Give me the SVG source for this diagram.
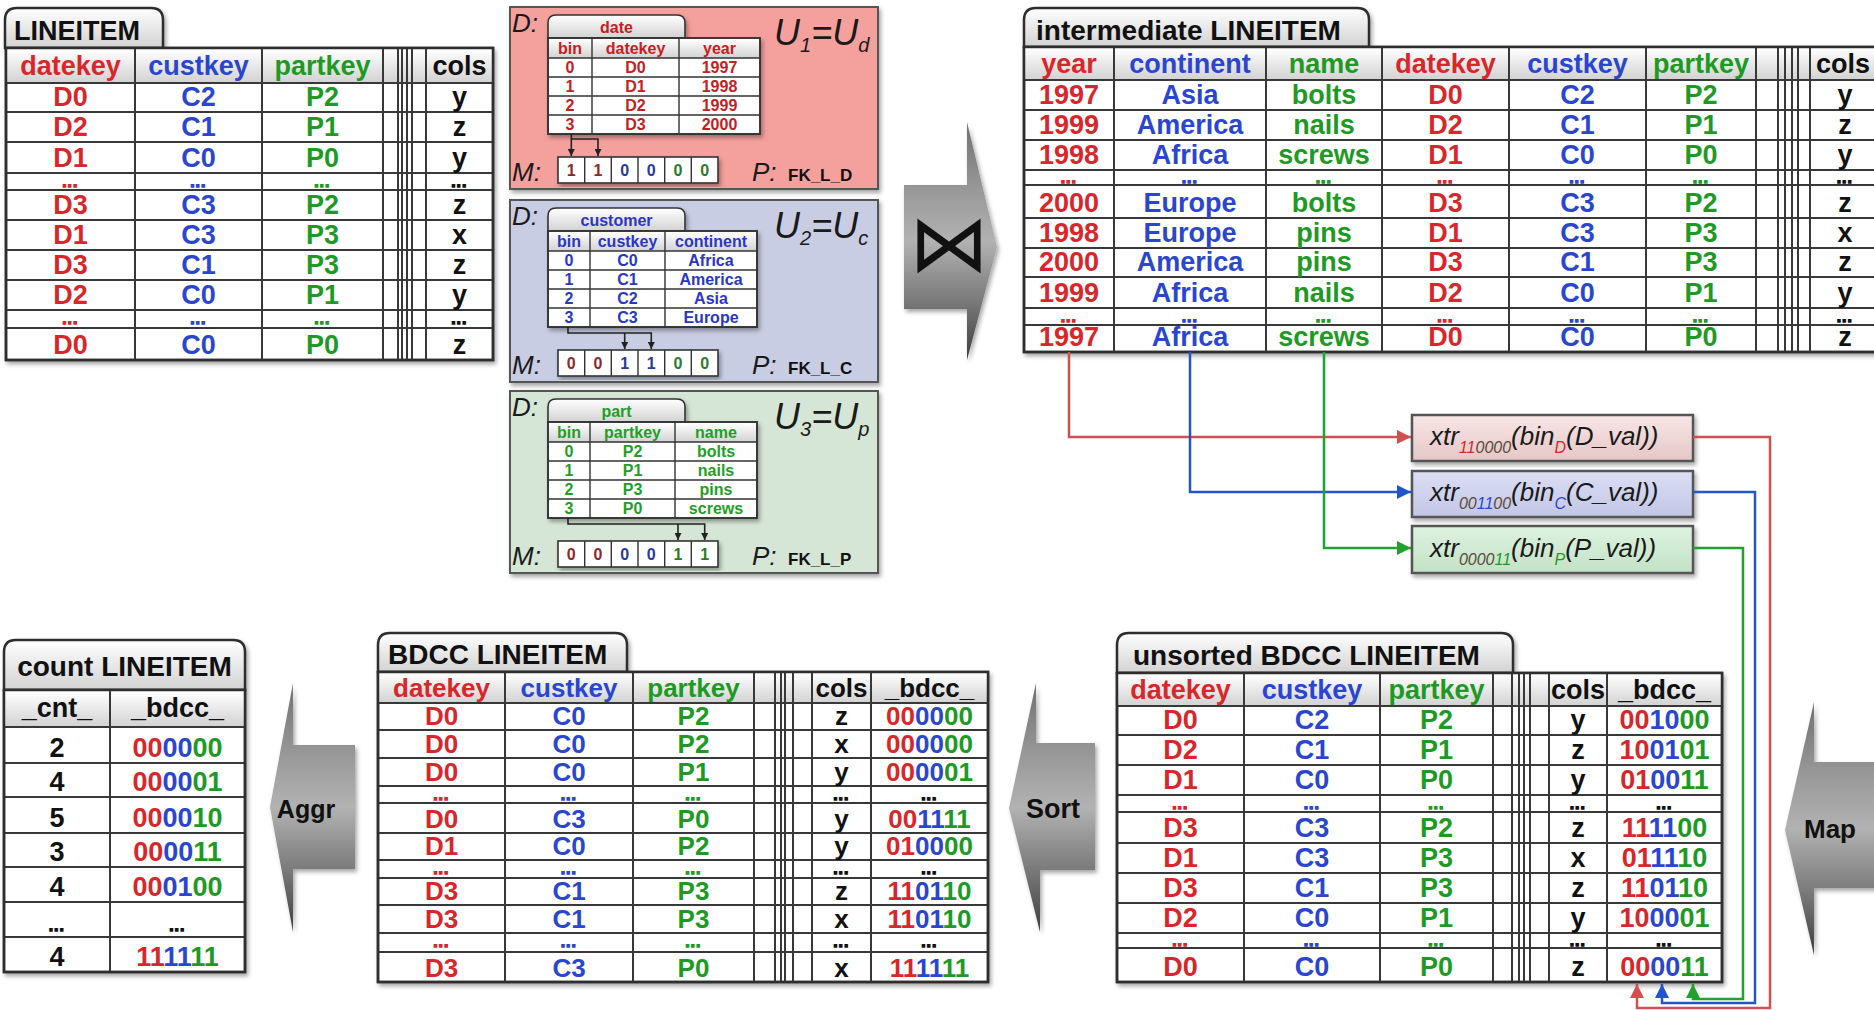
<svg xmlns="http://www.w3.org/2000/svg" width="1874" height="1010" viewBox="0 0 1874 1010">
<defs>
  <style>
    .f { font-family: "Liberation Sans", Arial, Helvetica, sans-serif; font-weight: bold; }
    .v { font-size: 27px; }
    .v6 { font-size: 26px; }
    .d { font-size: 14px; letter-spacing: 1.5px; }
    .d text { stroke-width: 1.6px; }
    .d .r { stroke: #d8262a; } .d .b { stroke: #2a46d0; } .d .g { stroke: #1e9a24; } .d .k, .d.k text { stroke: #111; }
    .c { text-anchor: middle; }
    .s { font-size: 16px; }
    .it { font-family: "Liberation Sans", Arial, Helvetica, sans-serif; font-style: italic; font-weight: normal; fill: #1a1a1a; }
    .r { fill: #d8262a; } .b { fill: #2a46d0; } .g { fill: #1e9a24; } .k { fill: #111; }
    .pr { fill: #c4201e; } .pb { fill: #2a36c6; } .pg { fill: #1f9e26; }
    .mr { fill: #8a2a2a; } .mb { fill: #2a3a9a; } .mg { fill: #2a7a2a; }
    .z { fill: #5a4a3a; }
    .tbl { fill: #fff; stroke: #2e2e2e; stroke-width: 2.5; }
    .tab { fill: url(#hg); stroke: #2e2e2e; stroke-width: 2.5; }
    .hb { fill: url(#hg); }
    .ln { fill: none; stroke: #383838; stroke-width: 2; }
    .itbl { fill: #fff; stroke: #333; stroke-width: 1.6; }
    .itab { fill: url(#hg); stroke: #333; stroke-width: 1.6; }
    .ln1 { fill: none; stroke: #333; stroke-width: 1.4; }
    .panel { stroke: #555; stroke-width: 2; }
    .xbox { stroke: #555; stroke-width: 2.5; }
    .op { fill: url(#og); }
    .cr { fill: none; stroke: #d05050; stroke-width: 2.5; }
    .cb { fill: none; stroke: #2255cc; stroke-width: 2.5; }
    .cg { fill: none; stroke: #22a030; stroke-width: 2.5; }
    .ck { fill: none; stroke: #222; stroke-width: 1.6; }
  </style>
  <linearGradient id="hg" x1="0" y1="0" x2="0" y2="1">
    <stop offset="0" stop-color="#ffffff"/>
    <stop offset="1" stop-color="#d2d2d2"/>
  </linearGradient>
  <linearGradient id="og" x1="0" y1="0" x2="0" y2="1">
    <stop offset="0" stop-color="#707070"/>
    <stop offset="0.3" stop-color="#9a9a9a"/>
    <stop offset="0.5" stop-color="#b2b2b2"/>
    <stop offset="0.75" stop-color="#7a7a7a"/>
    <stop offset="1" stop-color="#3e3e3e"/>
  </linearGradient>
  <linearGradient id="xr" x1="0" y1="0" x2="0" y2="1">
    <stop offset="0" stop-color="#f8e6e6"/><stop offset="1" stop-color="#e6c6c6"/>
  </linearGradient>
  <linearGradient id="xb" x1="0" y1="0" x2="0" y2="1">
    <stop offset="0" stop-color="#dcdef4"/><stop offset="1" stop-color="#c2c6e6"/>
  </linearGradient>
  <linearGradient id="xg" x1="0" y1="0" x2="0" y2="1">
    <stop offset="0" stop-color="#def2e0"/><stop offset="1" stop-color="#c2e2c6"/>
  </linearGradient>
  <filter id="sh" x="-5%" y="-5%" width="115%" height="120%">
    <feDropShadow dx="2" dy="3" stdDeviation="2" flood-color="#000" flood-opacity="0.35"/>
  </filter>
  <marker id="ak" viewBox="0 0 10 10" refX="10" refY="5" markerWidth="7" markerHeight="7" orient="auto" markerUnits="userSpaceOnUse">
    <path d="M0,0L10,5L0,10Z" fill="#222"/>
  </marker>
  <marker id="aR" viewBox="0 0 10 10" refX="10" refY="5" markerWidth="14" markerHeight="14" orient="auto" markerUnits="userSpaceOnUse">
    <path d="M0,0L10,5L0,10Z" fill="#d05050"/>
  </marker>
  <marker id="aB" viewBox="0 0 10 10" refX="10" refY="5" markerWidth="14" markerHeight="14" orient="auto" markerUnits="userSpaceOnUse">
    <path d="M0,0L10,5L0,10Z" fill="#2255cc"/>
  </marker>
  <marker id="aG" viewBox="0 0 10 10" refX="10" refY="5" markerWidth="14" markerHeight="14" orient="auto" markerUnits="userSpaceOnUse">
    <path d="M0,0L10,5L0,10Z" fill="#22a030"/>
  </marker>
</defs>

<rect x="0" y="0" width="1874" height="1010" fill="#fff"/>

<!-- base fact table -->
<g id="lineitem">
  <g filter="url(#sh)">
    <path class="tab" d="M5,48V20Q5,8 17,8H151Q163,8 163,20V48Z"/>
    <rect class="tbl" x="6" y="48" width="487" height="312"/>
  </g>
  <rect class="hb" x="7" y="49" width="485" height="34"/>
  <path class="ln" d="M6,83H493M6,112H493M6,142H493M6,173H493M6,190H493M6,220H493M6,250H493M6,280H493M6,310H493M6,328H493M135,48V360M262,48V360M383,48V360M398,48V360M402,48V360M407,48V360M412,48V360M426,48V360"/>
  <rect x="6" y="48" width="487" height="312" fill="none" stroke="#2e2e2e" stroke-width="2.5"/>
  <text class="f v k" x="14" y="40" font-size="28">LINEITEM</text>
  <g class="f v c">
    <text class="r" x="70.5" y="75">datekey</text>
    <text class="b" x="198.5" y="75">custkey</text>
    <text class="g" x="322.5" y="75">partkey</text>
    <text class="k" x="459.5" y="75">cols</text>
  </g>
  <g class="f v c r">
    <text x="70.5" y="106">D0</text><text x="70.5" y="136">D2</text><text x="70.5" y="167">D1</text>
    <text x="70.5" y="214">D3</text><text x="70.5" y="244">D1</text><text x="70.5" y="274">D3</text><text x="70.5" y="304">D2</text>
    <text x="70.5" y="354">D0</text>
  </g>
  <g class="f v c b">
    <text x="198.5" y="106">C2</text><text x="198.5" y="136">C1</text><text x="198.5" y="167">C0</text>
    <text x="198.5" y="214">C3</text><text x="198.5" y="244">C3</text><text x="198.5" y="274">C1</text><text x="198.5" y="304">C0</text>
    <text x="198.5" y="354">C0</text>
  </g>
  <g class="f v c g">
    <text x="322.5" y="106">P2</text><text x="322.5" y="136">P1</text><text x="322.5" y="167">P0</text>
    <text x="322.5" y="214">P2</text><text x="322.5" y="244">P3</text><text x="322.5" y="274">P3</text><text x="322.5" y="304">P1</text>
    <text x="322.5" y="354">P0</text>
  </g>
  <g class="f v c k">
    <text x="459.5" y="106">y</text><text x="459.5" y="136">z</text><text x="459.5" y="167">y</text>
    <text x="459.5" y="214">z</text><text x="459.5" y="244">x</text><text x="459.5" y="274">z</text><text x="459.5" y="304">y</text>
    <text x="459.5" y="354">z</text>
  </g>
  <g class="f d c">
    <text class="r" x="70.5" y="186.5">...</text><text class="b" x="198.5" y="186.5">...</text><text class="g" x="322.5" y="186.5">...</text><text class="k" x="459.5" y="186.5">...</text>
    <text class="r" x="70.5" y="323.5">...</text><text class="b" x="198.5" y="323.5">...</text><text class="g" x="322.5" y="323.5">...</text><text class="k" x="459.5" y="323.5">...</text>
  </g>
</g>

<!-- dimension: date -->
<g id="dim-date">
  <rect class="panel" x="510" y="7" width="368" height="182" fill="#f4a19e" filter="url(#sh)"/>
  <g filter="url(#sh)">
    <path class="itab" d="M548,38V23Q548,15 556,15H677Q685,15 685,23V38Z"/>
    <rect class="itbl" x="548" y="38" width="212" height="96"/>
  </g>
  <rect class="hb" x="549" y="39" width="210" height="19"/>
  <path class="ln1" d="M548,58H760M548,77H760M548,96H760M548,115H760M592,38V134M679,38V134"/>
  <rect x="548" y="38" width="212" height="96" fill="none" stroke="#333" stroke-width="1.6"/>
  <g class="f s c pr">
    <text x="616.5" y="33">date</text>
    <text x="570" y="54">bin</text><text x="635.5" y="54">datekey</text><text x="719.5" y="54">year</text>
    <text x="570" y="73">0</text><text x="635.5" y="73">D0</text><text x="719.5" y="73">1997</text>
    <text x="570" y="92">1</text><text x="635.5" y="92">D1</text><text x="719.5" y="92">1998</text>
    <text x="570" y="111">2</text><text x="635.5" y="111">D2</text><text x="719.5" y="111">1999</text>
    <text x="570" y="130">3</text><text x="635.5" y="130">D3</text><text x="719.5" y="130">2000</text>
  </g>
  <path class="ck" d="M571.3,134V156" marker-end="url(#ak)"/>
  <path class="ck" d="M571.3,139H598V156" marker-end="url(#ak)"/>
  <rect x="558" y="157" width="160" height="26" fill="#fff" stroke="#333" stroke-width="1.6" filter="url(#sh)"/>
  <path class="ln1" d="M584.7,157V183M611.3,157V183M638,157V183M664.7,157V183M691.3,157V183"/>
  <g class="f s c">
    <text class="mr" x="571.3" y="176">1</text><text class="mr" x="598" y="176">1</text>
    <text class="mb" x="624.7" y="176">0</text><text class="mb" x="651.3" y="176">0</text>
    <text class="mg" x="678" y="176">0</text><text class="mg" x="704.7" y="176">0</text>
  </g>
  <text class="it" x="512" y="32" font-size="26">D:</text>
  <text class="it" x="512" y="181" font-size="26">M:</text>
  <text class="it" x="752" y="181" font-size="26">P:</text>
  <text class="f k" x="788" y="181" font-size="17">FK_L_D</text>
  <text class="it" x="774" y="45" font-size="36">U<tspan font-size="20" dy="7">1</tspan><tspan dy="-7">=U</tspan><tspan font-size="20" dy="7">d</tspan></text>
</g>

<!-- dimension: customer -->
<g id="dim-customer" transform="translate(0,193)">
  <rect class="panel" x="510" y="7" width="368" height="182" fill="#c9cde4" filter="url(#sh)"/>
  <g filter="url(#sh)">
    <path class="itab" d="M548,38V23Q548,15 556,15H677Q685,15 685,23V38Z"/>
    <rect class="itbl" x="548" y="38" width="209" height="96"/>
  </g>
  <rect class="hb" x="549" y="39" width="207" height="19"/>
  <path class="ln1" d="M548,58H757M548,77H757M548,96H757M548,115H757M590,38V134M665,38V134"/>
  <rect x="548" y="38" width="209" height="96" fill="none" stroke="#333" stroke-width="1.6"/>
  <g class="f s c pb">
    <text x="616.5" y="33">customer</text>
    <text x="569" y="54">bin</text><text x="627.5" y="54">custkey</text><text x="711" y="54">continent</text>
    <text x="569" y="73">0</text><text x="627.5" y="73">C0</text><text x="711" y="73">Africa</text>
    <text x="569" y="92">1</text><text x="627.5" y="92">C1</text><text x="711" y="92">America</text>
    <text x="569" y="111">2</text><text x="627.5" y="111">C2</text><text x="711" y="111">Asia</text>
    <text x="569" y="130">3</text><text x="627.5" y="130">C3</text><text x="711" y="130">Europe</text>
  </g>
  <path class="ck" d="M568,134V140H651.3V156" marker-end="url(#ak)"/>
  <path class="ck" d="M624.7,140V156" marker-end="url(#ak)"/>
  <rect x="558" y="157" width="160" height="26" fill="#fff" stroke="#333" stroke-width="1.6" filter="url(#sh)"/>
  <path class="ln1" d="M584.7,157V183M611.3,157V183M638,157V183M664.7,157V183M691.3,157V183"/>
  <g class="f s c">
    <text class="mr" x="571.3" y="176">0</text><text class="mr" x="598" y="176">0</text>
    <text class="mb" x="624.7" y="176">1</text><text class="mb" x="651.3" y="176">1</text>
    <text class="mg" x="678" y="176">0</text><text class="mg" x="704.7" y="176">0</text>
  </g>
  <text class="it" x="512" y="32" font-size="26">D:</text>
  <text class="it" x="512" y="181" font-size="26">M:</text>
  <text class="it" x="752" y="181" font-size="26">P:</text>
  <text class="f k" x="788" y="181" font-size="17">FK_L_C</text>
  <text class="it" x="774" y="45" font-size="36">U<tspan font-size="20" dy="7">2</tspan><tspan dy="-7">=U</tspan><tspan font-size="20" dy="7">c</tspan></text>
</g>

<!-- dimension: part -->
<g id="dim-part" transform="translate(0,384)">
  <rect class="panel" x="510" y="7" width="368" height="182" fill="#d6e6d6" filter="url(#sh)"/>
  <g filter="url(#sh)">
    <path class="itab" d="M548,38V23Q548,15 556,15H677Q685,15 685,23V38Z"/>
    <rect class="itbl" x="548" y="38" width="209" height="96"/>
  </g>
  <rect class="hb" x="549" y="39" width="207" height="19"/>
  <path class="ln1" d="M548,58H757M548,77H757M548,96H757M548,115H757M590,38V134M675,38V134"/>
  <rect x="548" y="38" width="209" height="96" fill="none" stroke="#333" stroke-width="1.6"/>
  <g class="f s c pg">
    <text x="616.5" y="33">part</text>
    <text x="569" y="54">bin</text><text x="632.5" y="54">partkey</text><text x="716" y="54">name</text>
    <text x="569" y="73">0</text><text x="632.5" y="73">P2</text><text x="716" y="73">bolts</text>
    <text x="569" y="92">1</text><text x="632.5" y="92">P1</text><text x="716" y="92">nails</text>
    <text x="569" y="111">2</text><text x="632.5" y="111">P3</text><text x="716" y="111">pins</text>
    <text x="569" y="130">3</text><text x="632.5" y="130">P0</text><text x="716" y="130">screws</text>
  </g>
  <path class="ck" d="M568,134V140H704.7V156" marker-end="url(#ak)"/>
  <path class="ck" d="M678,140V156" marker-end="url(#ak)"/>
  <rect x="558" y="157" width="160" height="26" fill="#fff" stroke="#333" stroke-width="1.6" filter="url(#sh)"/>
  <path class="ln1" d="M584.7,157V183M611.3,157V183M638,157V183M664.7,157V183M691.3,157V183"/>
  <g class="f s c">
    <text class="mr" x="571.3" y="176">0</text><text class="mr" x="598" y="176">0</text>
    <text class="mb" x="624.7" y="176">0</text><text class="mb" x="651.3" y="176">0</text>
    <text class="mg" x="678" y="176">1</text><text class="mg" x="704.7" y="176">1</text>
  </g>
  <text class="it" x="512" y="32" font-size="26">D:</text>
  <text class="it" x="512" y="181" font-size="26">M:</text>
  <text class="it" x="752" y="181" font-size="26">P:</text>
  <text class="f k" x="788" y="181" font-size="17">FK_L_P</text>
  <text class="it" x="774" y="45" font-size="36">U<tspan font-size="20" dy="7">3</tspan><tspan dy="-7">=U</tspan><tspan font-size="20" dy="7">p</tspan></text>
</g>

<!-- join operator -->
<g id="op-join">
  <polygon class="op" points="904,185 967,185 967,122 997,247 967,360 967,309 904,309" filter="url(#sh)"/>
  <text x="949" y="271" font-family="DejaVu Sans, sans-serif" font-size="80" text-anchor="middle" fill="#111">⋈</text>
</g>

<!-- joined table -->
<g id="intermediate">
  <g filter="url(#sh)">
    <path class="tab" d="M1024,47V20Q1024,8 1036,8H1357Q1369,8 1369,20V47Z"/>
    <rect class="tbl" x="1024" y="47" width="870" height="305"/>
  </g>
  <rect class="hb" x="1025" y="48" width="860" height="32"/>
  <path class="ln" d="M1024,80H1880M1024,110H1880M1024,140H1880M1024,170H1880M1024,185H1880M1024,218H1880M1024,248H1880M1024,277H1880M1024,308H1880M1024,325H1880M1114,47V352M1266,47V352M1382,47V352M1509,47V352M1646,47V352M1756,47V352M1778,47V352M1785,47V352M1792,47V352M1798,47V352M1810,47V352"/>
  <rect x="1024" y="47" width="870" height="305" fill="none" stroke="#2e2e2e" stroke-width="2.5"/>
  <text class="f k" x="1036" y="40" font-size="28">intermediate LINEITEM</text>
  <g class="f v c">
    <text class="r" x="1069" y="73">year</text>
    <text class="b" x="1190" y="73">continent</text>
    <text class="g" x="1324" y="73">name</text>
    <text class="r" x="1445.5" y="73">datekey</text>
    <text class="b" x="1577.5" y="73">custkey</text>
    <text class="g" x="1701" y="73">partkey</text>
    <text class="k" x="1843" y="73">cols</text>
  </g>
  <g class="f v c r">
    <text x="1069" y="104">1997</text><text x="1069" y="134">1999</text><text x="1069" y="164">1998</text>
    <text x="1069" y="212">2000</text><text x="1069" y="242">1998</text><text x="1069" y="271">2000</text><text x="1069" y="302">1999</text>
    <text x="1069" y="346">1997</text>
  </g>
  <g class="f v c b">
    <text x="1190" y="104">Asia</text><text x="1190" y="134">America</text><text x="1190" y="164">Africa</text>
    <text x="1190" y="212">Europe</text><text x="1190" y="242">Europe</text><text x="1190" y="271">America</text><text x="1190" y="302">Africa</text>
    <text x="1190" y="346">Africa</text>
  </g>
  <g class="f v c g">
    <text x="1324" y="104">bolts</text><text x="1324" y="134">nails</text><text x="1324" y="164">screws</text>
    <text x="1324" y="212">bolts</text><text x="1324" y="242">pins</text><text x="1324" y="271">pins</text><text x="1324" y="302">nails</text>
    <text x="1324" y="346">screws</text>
  </g>
  <g class="f v c r">
    <text x="1445.5" y="104">D0</text><text x="1445.5" y="134">D2</text><text x="1445.5" y="164">D1</text>
    <text x="1445.5" y="212">D3</text><text x="1445.5" y="242">D1</text><text x="1445.5" y="271">D3</text><text x="1445.5" y="302">D2</text>
    <text x="1445.5" y="346">D0</text>
  </g>
  <g class="f v c b">
    <text x="1577.5" y="104">C2</text><text x="1577.5" y="134">C1</text><text x="1577.5" y="164">C0</text>
    <text x="1577.5" y="212">C3</text><text x="1577.5" y="242">C3</text><text x="1577.5" y="271">C1</text><text x="1577.5" y="302">C0</text>
    <text x="1577.5" y="346">C0</text>
  </g>
  <g class="f v c g">
    <text x="1701" y="104">P2</text><text x="1701" y="134">P1</text><text x="1701" y="164">P0</text>
    <text x="1701" y="212">P2</text><text x="1701" y="242">P3</text><text x="1701" y="271">P3</text><text x="1701" y="302">P1</text>
    <text x="1701" y="346">P0</text>
  </g>
  <g class="f v c k">
    <text x="1845" y="104">y</text><text x="1845" y="134">z</text><text x="1845" y="164">y</text>
    <text x="1845" y="212">z</text><text x="1845" y="242">x</text><text x="1845" y="271">z</text><text x="1845" y="302">y</text>
    <text x="1845" y="346">z</text>
  </g>
  <g class="f d c">
    <text class="r" x="1069" y="183">...</text><text class="b" x="1190" y="183">...</text><text class="g" x="1324" y="183">...</text>
    <text class="r" x="1445.5" y="183">...</text><text class="b" x="1577.5" y="183">...</text><text class="g" x="1701" y="183">...</text><text class="k" x="1845" y="183">...</text>
    <text class="r" x="1069" y="321.5">...</text><text class="b" x="1190" y="321.5">...</text><text class="g" x="1324" y="321.5">...</text>
    <text class="r" x="1445.5" y="321.5">...</text><text class="b" x="1577.5" y="321.5">...</text><text class="g" x="1701" y="321.5">...</text><text class="k" x="1845" y="321.5">...</text>
  </g>
</g>

<!-- bit extraction functions -->
<g id="xtr-date">
  <rect class="xbox" x="1412" y="415" width="281" height="46" fill="url(#xr)" filter="url(#sh)"/>
  <text class="it" x="1430" y="445" font-size="26">xtr<tspan font-size="16" dy="8"><tspan class="r">11</tspan><tspan class="z">0000</tspan></tspan><tspan dy="-8">(bin</tspan><tspan font-size="16" dy="8" class="r">D</tspan><tspan dy="-8">(D_val))</tspan></text>
</g>
<g id="xtr-customer">
  <rect class="xbox" x="1412" y="471" width="281" height="46" fill="url(#xb)" filter="url(#sh)"/>
  <text class="it" x="1430" y="501" font-size="26">xtr<tspan font-size="16" dy="8"><tspan class="z">00</tspan><tspan class="b">11</tspan><tspan class="z">00</tspan></tspan><tspan dy="-8">(bin</tspan><tspan font-size="16" dy="8" class="b">C</tspan><tspan dy="-8">(C_val))</tspan></text>
</g>
<g id="xtr-part">
  <rect class="xbox" x="1412" y="526" width="281" height="47" fill="url(#xg)" filter="url(#sh)"/>
  <text class="it" x="1430" y="557" font-size="26">xtr<tspan font-size="16" dy="8"><tspan class="z">0000</tspan><tspan class="g">11</tspan></tspan><tspan dy="-8">(bin</tspan><tspan font-size="16" dy="8" class="g">P</tspan><tspan dy="-8">(P_val))</tspan></text>
</g>

<!-- map operator -->
<g id="op-map">
  <polygon class="op" points="1880,762 1814,762 1814,702 1785,830 1814,955 1814,888 1880,888" filter="url(#sh)"/>
  <text class="f k c" x="1830" y="838" font-size="26">Map</text>
</g>

<!-- table with computed bdcc -->
<g id="unsorted-bdcc">
  <g filter="url(#sh)">
    <path class="tab" d="M1117,673V645Q1117,633 1129,633H1501Q1513,633 1513,645V673Z"/>
    <rect class="tbl" x="1117" y="673" width="605" height="309"/>
  </g>
  <rect class="hb" x="1118" y="674" width="603" height="32"/>
  <path class="ln" d="M1117,706H1722M1117,735H1722M1117,765H1722M1117,795H1722M1117,812H1722M1117,843H1722M1117,873H1722M1117,903H1722M1117,933H1722M1117,948H1722M1244,673V982M1380,673V982M1493,673V982M1512,673V982M1519,673V982M1524,673V982M1530,673V982M1549,673V982M1607,673V982"/>
  <rect x="1117" y="673" width="605" height="309" fill="none" stroke="#2e2e2e" stroke-width="2.5"/>
  <text class="f k" x="1133" y="665" font-size="28">unsorted BDCC LINEITEM</text>
  <g class="f v c">
    <text class="r" x="1180.5" y="699">datekey</text>
    <text class="b" x="1312" y="699">custkey</text>
    <text class="g" x="1436.5" y="699">partkey</text>
    <text class="k" x="1578" y="699">cols</text>
    <text class="k" x="1664.5" y="699">_bdcc_</text>
  </g>
  <g class="f v c r">
    <text x="1180.5" y="729">D0</text><text x="1180.5" y="759">D2</text><text x="1180.5" y="789">D1</text>
    <text x="1180.5" y="837">D3</text><text x="1180.5" y="867">D1</text><text x="1180.5" y="897">D3</text><text x="1180.5" y="927">D2</text>
    <text x="1180.5" y="976">D0</text>
  </g>
  <g class="f v c b">
    <text x="1312" y="729">C2</text><text x="1312" y="759">C1</text><text x="1312" y="789">C0</text>
    <text x="1312" y="837">C3</text><text x="1312" y="867">C3</text><text x="1312" y="897">C1</text><text x="1312" y="927">C0</text>
    <text x="1312" y="976">C0</text>
  </g>
  <g class="f v c g">
    <text x="1436.5" y="729">P2</text><text x="1436.5" y="759">P1</text><text x="1436.5" y="789">P0</text>
    <text x="1436.5" y="837">P2</text><text x="1436.5" y="867">P3</text><text x="1436.5" y="897">P3</text><text x="1436.5" y="927">P1</text>
    <text x="1436.5" y="976">P0</text>
  </g>
  <g class="f v c k">
    <text x="1578" y="729">y</text><text x="1578" y="759">z</text><text x="1578" y="789">y</text>
    <text x="1578" y="837">z</text><text x="1578" y="867">x</text><text x="1578" y="897">z</text><text x="1578" y="927">y</text>
    <text x="1578" y="976">z</text>
  </g>
  <g class="f v c">
    <text x="1664.5" y="729"><tspan class="r">00</tspan><tspan class="b">10</tspan><tspan class="g">00</tspan></text>
    <text x="1664.5" y="759"><tspan class="r">10</tspan><tspan class="b">01</tspan><tspan class="g">01</tspan></text>
    <text x="1664.5" y="789"><tspan class="r">01</tspan><tspan class="b">00</tspan><tspan class="g">11</tspan></text>
    <text x="1664.5" y="837"><tspan class="r">11</tspan><tspan class="b">11</tspan><tspan class="g">00</tspan></text>
    <text x="1664.5" y="867"><tspan class="r">01</tspan><tspan class="b">11</tspan><tspan class="g">10</tspan></text>
    <text x="1664.5" y="897"><tspan class="r">11</tspan><tspan class="b">01</tspan><tspan class="g">10</tspan></text>
    <text x="1664.5" y="927"><tspan class="r">10</tspan><tspan class="b">00</tspan><tspan class="g">01</tspan></text>
    <text x="1664.5" y="976"><tspan class="r">00</tspan><tspan class="b">00</tspan><tspan class="g">11</tspan></text>
  </g>
  <g class="f d c">
    <text class="r" x="1180.5" y="808.5">...</text><text class="b" x="1312" y="808.5">...</text><text class="g" x="1436.5" y="808.5">...</text><text class="k" x="1578" y="808.5">...</text><text class="k" x="1664.5" y="808.5">...</text>
    <text class="r" x="1180.5" y="946">...</text><text class="b" x="1312" y="946">...</text><text class="g" x="1436.5" y="946">...</text><text class="k" x="1578" y="946">...</text><text class="k" x="1664.5" y="946">...</text>
  </g>
</g>

<!-- sort operator -->
<g id="op-sort">
  <polygon class="op" points="1095,743 1036,743 1036,683 1009,808 1040,932 1040,870 1095,870" filter="url(#sh)"/>
  <text class="f k c" x="1053" y="818" font-size="27">Sort</text>
</g>

<!-- table sorted on bdcc -->
<g id="bdcc-lineitem">
  <g filter="url(#sh)">
    <path class="tab" d="M378,672V645Q378,633 390,633H615Q627,633 627,645V672Z"/>
    <rect class="tbl" x="378" y="672" width="610" height="310"/>
  </g>
  <rect class="hb" x="379" y="673" width="608" height="30"/>
  <path class="ln" d="M378,703H988M378,730H988M378,758H988M378,786H988M378,803H988M378,833H988M378,860H988M378,878H988M378,905H988M378,933H988M378,952H988M505,672V982M633,672V982M754,672V982M775,672V982M781,672V982M785,672V982M793,672V982M812,672V982M871,672V982"/>
  <rect x="378" y="672" width="610" height="310" fill="none" stroke="#2e2e2e" stroke-width="2.5"/>
  <text class="f k" x="388" y="664" font-size="28">BDCC LINEITEM</text>
  <g class="f v6 c">
    <text class="r" x="441.5" y="697">datekey</text>
    <text class="b" x="569" y="697">custkey</text>
    <text class="g" x="693.5" y="697">partkey</text>
    <text class="k" x="841.5" y="697">cols</text>
    <text class="k" x="929.5" y="697">_bdcc_</text>
  </g>
  <g class="f v6 c r">
    <text x="441.5" y="724.5">D0</text><text x="441.5" y="752.5">D0</text><text x="441.5" y="780.5">D0</text>
    <text x="441.5" y="827.5">D0</text><text x="441.5" y="854.5">D1</text>
    <text x="441.5" y="899.5">D3</text><text x="441.5" y="927.5">D3</text><text x="441.5" y="976.5">D3</text>
  </g>
  <g class="f v6 c b">
    <text x="569" y="724.5">C0</text><text x="569" y="752.5">C0</text><text x="569" y="780.5">C0</text>
    <text x="569" y="827.5">C3</text><text x="569" y="854.5">C0</text>
    <text x="569" y="899.5">C1</text><text x="569" y="927.5">C1</text><text x="569" y="976.5">C3</text>
  </g>
  <g class="f v6 c g">
    <text x="693.5" y="724.5">P2</text><text x="693.5" y="752.5">P2</text><text x="693.5" y="780.5">P1</text>
    <text x="693.5" y="827.5">P0</text><text x="693.5" y="854.5">P2</text>
    <text x="693.5" y="899.5">P3</text><text x="693.5" y="927.5">P3</text><text x="693.5" y="976.5">P0</text>
  </g>
  <g class="f v6 c k">
    <text x="841.5" y="724.5">z</text><text x="841.5" y="752.5">x</text><text x="841.5" y="780.5">y</text>
    <text x="841.5" y="827.5">y</text><text x="841.5" y="854.5">y</text>
    <text x="841.5" y="899.5">z</text><text x="841.5" y="927.5">x</text><text x="841.5" y="976.5">x</text>
  </g>
  <g class="f v6 c">
    <text x="929.5" y="724.5"><tspan class="r">00</tspan><tspan class="b">00</tspan><tspan class="g">00</tspan></text>
    <text x="929.5" y="752.5"><tspan class="r">00</tspan><tspan class="b">00</tspan><tspan class="g">00</tspan></text>
    <text x="929.5" y="780.5"><tspan class="r">00</tspan><tspan class="b">00</tspan><tspan class="g">01</tspan></text>
    <text x="929.5" y="827.5"><tspan class="r">00</tspan><tspan class="b">11</tspan><tspan class="g">11</tspan></text>
    <text x="929.5" y="854.5"><tspan class="r">01</tspan><tspan class="b">00</tspan><tspan class="g">00</tspan></text>
    <text x="929.5" y="899.5"><tspan class="r">11</tspan><tspan class="b">01</tspan><tspan class="g">10</tspan></text>
    <text x="929.5" y="927.5"><tspan class="r">11</tspan><tspan class="b">01</tspan><tspan class="g">10</tspan></text>
    <text x="929.5" y="976.5"><tspan class="r">11</tspan><tspan class="b">11</tspan><tspan class="g">11</tspan></text>
  </g>
  <g class="f d c">
    <text class="r" x="441.5" y="799.5">...</text><text class="b" x="569" y="799.5">...</text><text class="g" x="693.5" y="799.5">...</text><text class="k" x="841.5" y="799.5">...</text><text class="k" x="929.5" y="799.5">...</text>
    <text class="r" x="441.5" y="873.5">...</text><text class="b" x="569" y="873.5">...</text><text class="g" x="693.5" y="873.5">...</text><text class="k" x="841.5" y="873.5">...</text><text class="k" x="929.5" y="873.5">...</text>
    <text class="r" x="441.5" y="947">...</text><text class="b" x="569" y="947">...</text><text class="g" x="693.5" y="947">...</text><text class="k" x="841.5" y="947">...</text><text class="k" x="929.5" y="947">...</text>
  </g>
</g>

<!-- aggregation operator -->
<g id="op-aggr">
  <polygon class="op" points="355,745 293,745 293,683 270,807 293,932 293,869 355,869" filter="url(#sh)"/>
  <text class="f k c" x="306" y="818" font-size="25">Aggr</text>
</g>

<!-- aggregated counts -->
<g id="count-lineitem">
  <g filter="url(#sh)">
    <path class="tab" d="M4,690V652Q4,640 16,640H233Q245,640 245,652V690Z"/>
    <rect class="tbl" x="4" y="690" width="241" height="282"/>
  </g>
  <rect class="hb" x="5" y="691" width="239" height="36"/>
  <path class="ln" d="M4,727H245M4,763H245M4,797H245M4,833H245M4,867H245M4,902H245M4,937H245M110,690V972"/>
  <rect x="4" y="690" width="241" height="282" fill="none" stroke="#2e2e2e" stroke-width="2.5"/>
  <text class="f k c" x="124.5" y="676" font-size="28">count LINEITEM</text>
  <g class="f v c k">
    <text x="57" y="717">_cnt_</text>
    <text x="177.5" y="717">_bdcc_</text>
    <text x="57" y="757">2</text><text x="57" y="791">4</text><text x="57" y="827">5</text><text x="57" y="861">3</text>
    <text x="57" y="896">4</text><text x="57" y="966">4</text>
  </g>
  <g class="f d c k">
    <text x="57" y="931">...</text><text x="177.5" y="931">...</text>
  </g>
  <g class="f v c">
    <text x="177.5" y="757"><tspan class="r">00</tspan><tspan class="b">00</tspan><tspan class="g">00</tspan></text>
    <text x="177.5" y="791"><tspan class="r">00</tspan><tspan class="b">00</tspan><tspan class="g">01</tspan></text>
    <text x="177.5" y="827"><tspan class="r">00</tspan><tspan class="b">00</tspan><tspan class="g">10</tspan></text>
    <text x="177.5" y="861"><tspan class="r">00</tspan><tspan class="b">00</tspan><tspan class="g">11</tspan></text>
    <text x="177.5" y="896"><tspan class="r">00</tspan><tspan class="b">01</tspan><tspan class="g">00</tspan></text>
    <text x="177.5" y="966"><tspan class="r">11</tspan><tspan class="b">11</tspan><tspan class="g">11</tspan></text>
  </g>
</g>

<!-- connectors: join columns into extractors, extractors into bdcc -->
<g id="connectors">
  <path class="cr" d="M1069,352V437H1411" marker-end="url(#aR)"/>
  <path class="cb" d="M1190,352V492H1411" marker-end="url(#aB)"/>
  <path class="cg" d="M1324,352V548H1411" marker-end="url(#aG)"/>
  <path class="cr" d="M1693,437H1770V1008H1637V984" marker-end="url(#aR)"/>
  <path class="cb" d="M1693,492H1755V1003H1662V984" marker-end="url(#aB)"/>
  <path class="cg" d="M1693,548H1743V999H1693V984" marker-end="url(#aG)"/>
</g>
</svg>
